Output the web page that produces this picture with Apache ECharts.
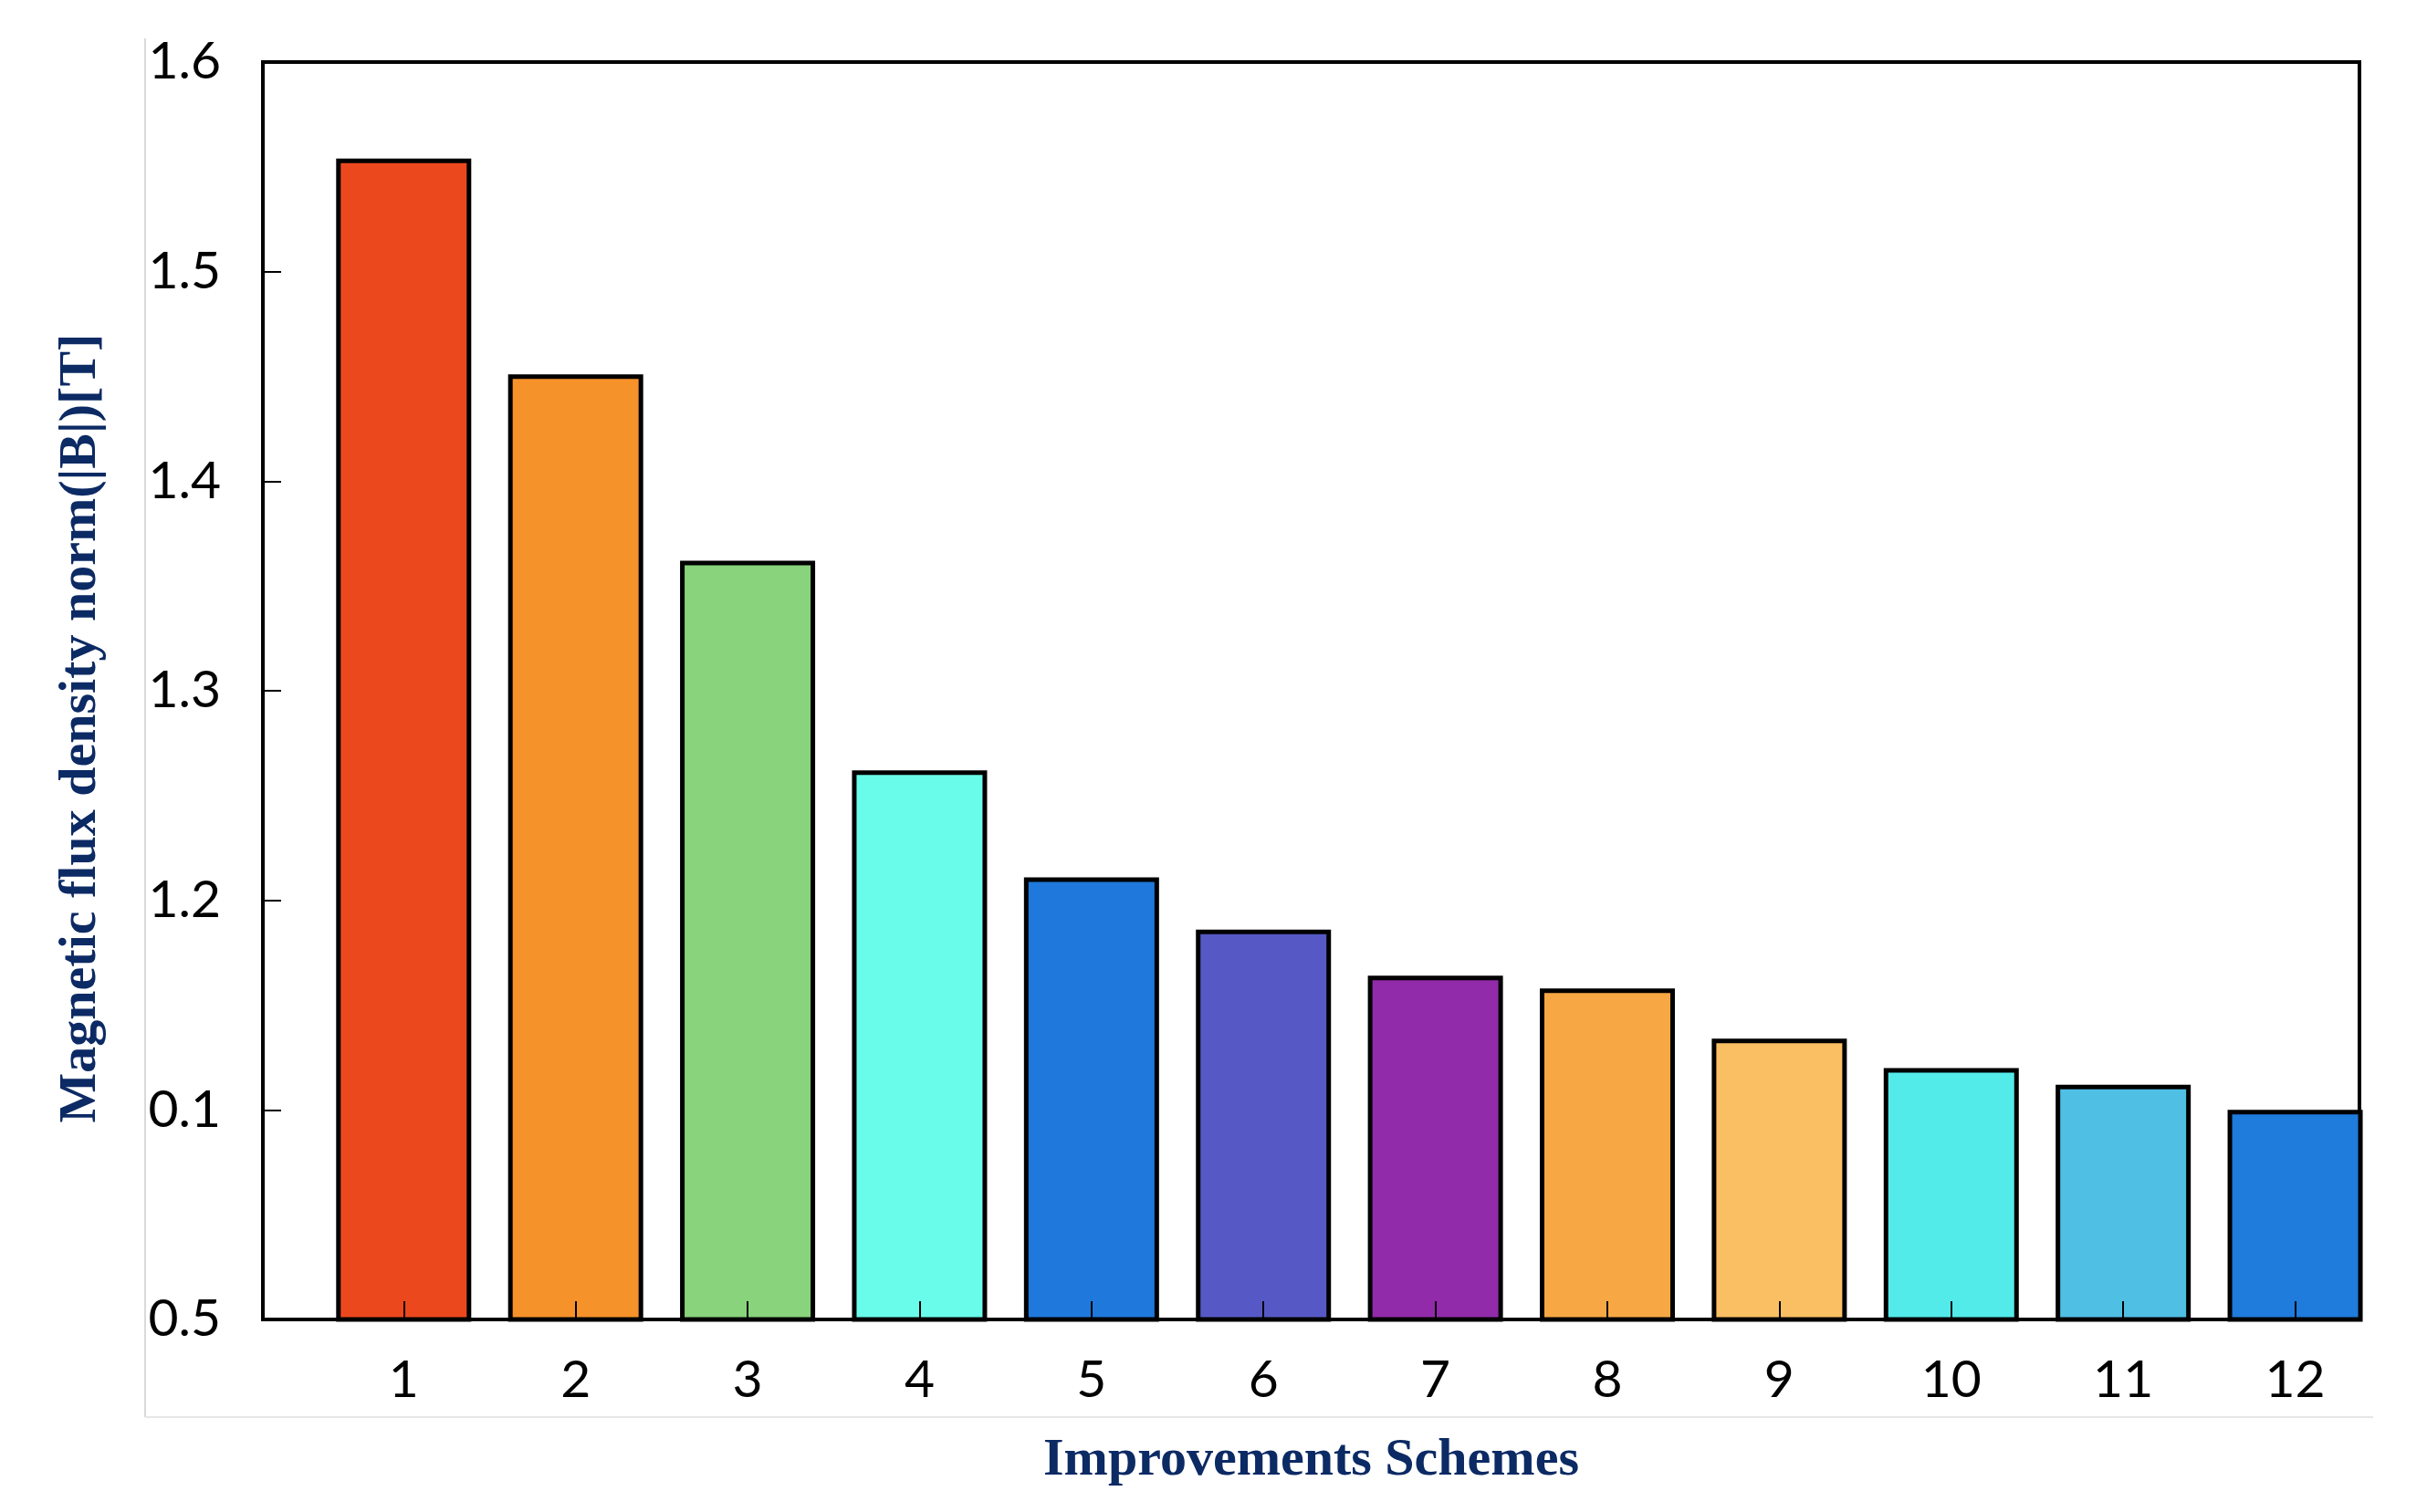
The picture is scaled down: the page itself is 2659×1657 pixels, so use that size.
<!DOCTYPE html>
<html>
<head>
<meta charset="utf-8">
<style>
  html, body { margin: 0; padding: 0; background: #ffffff; }
  #chart { width: 2659px; height: 1657px; }
</style>
<script src="https://cdn.jsdelivr.net/npm/echarts@6/dist/echarts.min.js"></script>
</head>
<body>
<div id="chart"></div>
<script>
// ---- data ----
const schemes = [1, 2, 3, 4, 5, 6, 7, 8, 9, 10, 11, 12];
const fluxValues = [1.554, 1.451, 1.362, 1.262, 1.211, 1.186, 1.164, 1.158, 1.134, 1.120, 1.112, 1.100];
const barColors = ['#EC481E', '#F6922A', '#88D37B', '#6AFCEA', '#1F78DC', '#5659C5',
                   '#912BA9', '#F7A845', '#FABF63', '#53EAEA', '#4FBFE4', '#1F7BDC'];
const yTickValues = [1.0, 1.1, 1.2, 1.3, 1.4, 1.5, 1.6];
const yTickLabels = ['0.5', '0.1', '1.2', '1.3', '1.4', '1.5', '1.6'];
const xName = 'Improvements Schemes';
const yName = 'Magnetic flux density norm(|B|)[T]';

const chart = echarts.init(document.getElementById('chart'), null, { renderer: 'canvas' });

const option = {
  backgroundColor: '#ffffff',
  animation: false,
  grid: {
    left: 288, right: 74, top: 68, bottom: 211,
    show: true, borderColor: '#000000', borderWidth: 4, backgroundColor: 'transparent'
  },
  xAxis: {
    type: 'value',
    min: 0.181,
    max: 12.374,
    z: 5,
    name: xName,
    nameLocation: 'middle',
    nameGap: 126,
    nameTextStyle: { fontFamily: 'Liberation Serif', fontWeight: 'bold', fontSize: 58, color: '#0c2a64' },
    axisLine: { show: true, lineStyle: { color: '#000000', width: 4 } },
    axisTick: { show: true, inside: true, length: 20, lineStyle: { color: '#000000', width: 2 }, customValues: schemes },
    axisLabel: { show: true, customValues: schemes, margin: 38, fontFamily: 'Lato', fontSize: 57, color: '#000000',
                 formatter: (v) => String(v) },
    splitLine: { show: false }
  },
  yAxis: {
    type: 'value',
    min: 1.0,
    max: 1.6,
    interval: 0.1,
    z: 5,
    name: yName,
    nameLocation: 'middle',
    nameGap: 170,
    nameTextStyle: { fontFamily: 'Liberation Serif', fontWeight: 'bold', fontSize: 58, color: '#0c2a64',
                     padding: [0, 82, 0, 0] },
    axisLine: { show: true, lineStyle: { color: '#000000', width: 4 } },
    axisTick: { show: true, inside: true, length: 20, lineStyle: { color: '#000000', width: 2 } },
    axisLabel: {
      margin: 46, fontFamily: 'Lato', fontSize: 57, color: '#000000',
      formatter: (v) => {
        const i = yTickValues.findIndex(t => Math.abs(t - v) < 1e-6);
        return i >= 0 ? yTickLabels[i] : '';
      }
    },
    splitLine: { show: false }
  },
  graphic: [
    { type: 'line', silent: true, z: -1, shape: { x1: 159, y1: 42, x2: 159, y2: 1553 }, style: { stroke: '#d9d9d9', lineWidth: 2 } },
    { type: 'line', silent: true, z: -1, shape: { x1: 159, y1: 1553, x2: 2600, y2: 1553 }, style: { stroke: '#e6e6e6', lineWidth: 2 } }
  ],
  series: [{
    type: 'bar',
    barWidth: 148,
    clip: true,
    data: schemes.map((s, i) => ({
      value: [s, fluxValues[i]],
      itemStyle: { color: barColors[i], borderColor: '#000000', borderWidth: 5 }
    }))
  }]
};

chart.setOption(option);
</script>
</body>
</html>
